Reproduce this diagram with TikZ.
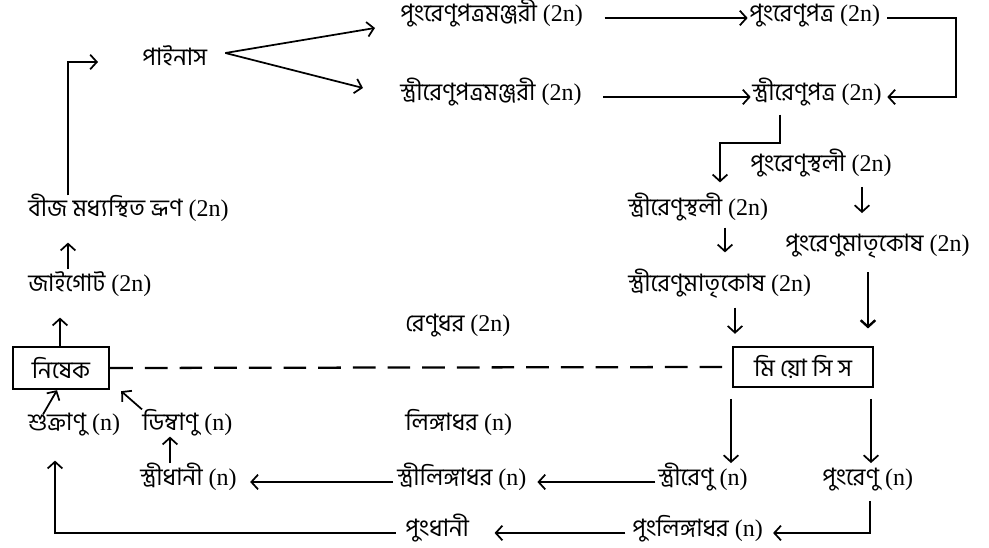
\documentclass[tikz,border=0pt]{standalone}
\usepackage{fontspec}
\setmainfont{Liberation Serif}
\newfontfamily\bn[Script=Bengali]{Hind Siliguri}
\usetikzlibrary{arrows.meta,positioning,calc}

\begin{document}
\begin{tikzpicture}[x=0.75pt,y=-0.75pt,
  lbl/.style={anchor=west,inner sep=0pt,text height=10pt,text depth=4pt,font=\fontsize{18}{20}\selectfont},
  boxed/.style={draw,line width=1.8pt,inner sep=0pt,font=\fontsize{18}{20}\selectfont},
  arr/.style={-{Straight Barb[length=5pt,width=11pt]},line width=1.3pt}]
\useasboundingbox (0,0) rectangle (989,548);
% sporophyte side
\node[lbl] (pinus) at (142,62) {\bn পাইনাস};
\node[lbl] (pm) at (400,18) {{\bn পুংরেণুপত্রমঞ্জরী} (2n)};
\node[lbl] (pp) at (749,18) {{\bn পুংরেণুপত্র} (2n)};
\node[lbl] (sm) at (400,97) {{\bn স্ত্রীরেণুপত্রমঞ্জরী} (2n)};
\node[lbl] (sp) at (752,97) {{\bn স্ত্রীরেণুপত্র} (2n)};
\node[lbl] (ps) at (750,168) {{\bn পুংরেণুস্থলী} (2n)};
\node[lbl] (ss) at (628,212) {{\bn স্ত্রীরেণুস্থলী} (2n)};
\node[lbl] (pmk) at (785,248) {{\bn পুংরেণুমাতৃকোষ} (2n)};
\node[lbl] (smk) at (628,288) {{\bn স্ত্রীরেণুমাতৃকোষ} (2n)};
\node[lbl] (bij) at (28,213) {{\bn বীজ মধ্যস্থিত ভ্রূণ} (2n)};
\node[lbl] (zyg) at (28,288) {{\bn জাইগোট} (2n)};
\node[lbl] (renudhar) at (405,328) {{\bn রেণুধর} (2n)};
\node[boxed,minimum width=72pt,minimum height=31.5pt] (nishek) at (61,368) {\bn নিষেক};
\node[boxed,minimum width=105pt,minimum height=30pt] (meiosis) at (803,367) {\bn মি য়ো সি স};
% gametophyte side
\node[lbl] (sukranu) at (28,427) {{\bn শুক্রাণু} (n)};
\node[lbl] (dimbanu) at (142,427) {{\bn ডিম্বাণু} (n)};
\node[lbl] (lingadhar) at (405,427) {{\bn লিঙ্গাধর} (n)};
\node[lbl] (stridhani) at (140,482) {{\bn স্ত্রীধানী} (n)};
\node[lbl] (strilinga) at (397,482) {{\bn স্ত্রীলিঙ্গাধর} (n)};
\node[lbl] (strirenu) at (658,482) {{\bn স্ত্রীরেণু} (n)};
\node[lbl] (pungrenu) at (822,482) {{\bn পুংরেণু} (n)};
\node[lbl] (pungdhani) at (405,533) {\bn পুংধানী};
\node[lbl] (punglinga) at (632,533) {{\bn পুংলিঙ্গাধর} (n)};
% connectors
\coordinate (fork) at ([shift={(18,-9)}]pinus.east);
\coordinate (rbend) at (956,18);
\coordinate (skink) at (720,143);
\draw[arr,shorten <=6pt,shorten >=33pt] (bij.north -| 68,0) |- (pinus.west);
\draw[arr] (fork) -- ([shift={(-25,10)}]pm.west);
\draw[arr] (fork) -- ([shift={(-37,-9)}]sm.west);
\draw[arr,shorten <=16pt,shorten >=1pt] (pm.east) -- (pp.west);
\draw[arr,shorten <=16pt,shorten >=1pt] (sm.east) -- (sp.west);
\draw[arr,shorten <=5pt,shorten >=4pt] (pp.east) -- (rbend) |- (sp.east);
\draw[arr,shorten <=6pt,shorten >=15pt] ([xshift=21pt]sp.south west) |- (skink) -- (skink |- ss.north);
\draw[arr,shorten <=7pt,shorten >=19pt] (ps.south -| 862,0) -- (pmk.north -| 862,0);
\draw[arr,shorten <=4.5pt,shorten >=19.5pt] (ss.south -| 725,0) -- (smk.north -| 725,0);
\draw[arr,shorten <=7.5pt,shorten >=9pt] (smk.south -| 735,0) -- (meiosis.north -| 735,0);
\draw[arr,line width=1.8pt,shorten <=11pt,shorten >=13pt] (pmk.south -| 868,0) -- (meiosis.north -| 868,0);
\draw[line width=1.7pt,dash pattern=on 17pt off 9pt] (nishek.east) -- (meiosis.west);
\draw[arr,shorten <=7pt,shorten >=15pt] (zyg.north -| 68,0) -- (bij.south -| 68,0);
\draw[arr,shorten >=15pt] (nishek.north -| 60,0) -- (zyg.south -| 60,0);
\draw[arr] ([shift={(15,-3)}]sukranu.north west) -- ([shift={(-4,0)}]nishek.south);
\draw[arr] ([shift={(0,-8)}]dimbanu.north west) -- ([shift={(11,1)}]nishek.south east);
\draw[arr,shorten <=7pt] (stridhani.north -| 170,0) -- (dimbanu.south -| 170,0);
\draw[arr,shorten <=3pt,shorten >=10pt] (strilinga.west) -- (stridhani.east);
\draw[arr,shorten <=2pt,shorten >=8pt] (strirenu.west) -- (strilinga.east);
\draw[arr,shorten <=8pt,shorten >=7pt] (meiosis.south -| 731,0) -- (strirenu.north -| 731,0);
\draw[arr,shorten <=8pt,shorten >=7pt] (meiosis.south -| 871,0) -- (pungrenu.north -| 871,0);
\draw[arr,shorten <=7pt,shorten >=7.5pt] (pungrenu.south -| 870,0) |- (punglinga.east);
\draw[arr,shorten <=5pt,shorten >=19pt] (punglinga.west) -- (pungdhani.east);
\draw[arr,shorten <=7pt,shorten >=18pt] (pungdhani.west) -| (sukranu.south -| 55,0);
\end{tikzpicture}
\end{document}
